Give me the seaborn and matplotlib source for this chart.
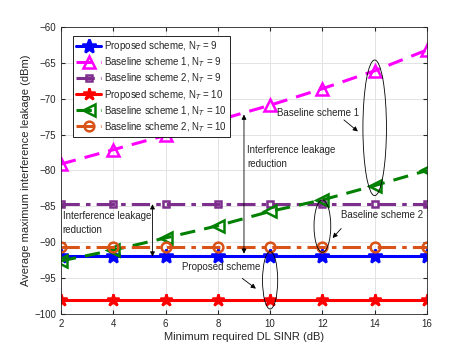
import numpy as np
import pandas as pd
import matplotlib.pyplot as plt
import seaborn as sns
from matplotlib.patches import Ellipse

# data
sinr = [2, 4, 6, 8, 10, 12, 14, 16]
prop_9 = [-91.9] * 8
base1_9 = [-79.1, -77.1, -75.1, -73.0, -70.9, -68.6, -66.1, -63.2]
base2_9 = [-84.7] * 8
prop_10 = [-98.0] * 8
base1_10 = [-92.6, -91.1, -89.4, -87.7, -85.7, -84.1, -82.1, -80.0]
base2_10 = [-90.7] * 8

labels = ['Proposed scheme, N$_T$ = 9', 'Baseline scheme 1, N$_T$ = 9',
          'Baseline scheme 2, N$_T$ = 9', 'Proposed scheme, N$_T$ = 10',
          'Baseline scheme 1, N$_T$ = 10', 'Baseline scheme 2, N$_T$ = 10']
series = [prop_9, base1_9, base2_9, prop_10, base1_10, base2_10]

colors = ['#0000ff', '#ff00ff', '#7e2f8e', '#ff0000', '#008000', '#d95319']
markers = ['*', '^', 's', '*', '<', 'o']
styles = ['-', (0, (5, 3)), (0, (6, 2, 1.5, 2)), '-', (0, (5, 3)), (0, (6, 2, 1.5, 2))]
msizes = [10, 8, 5, 9, 8, 7]

df = pd.DataFrame({'x': sinr * 6,
                   'y': sum(series, []),
                   'scheme': np.repeat(labels, len(sinr))})

sns.set_style('ticks')
plt.rcParams['font.family'] = ['Liberation Sans', 'DejaVu Sans']

fig = plt.figure(figsize=(4.71, 3.53), dpi=100)
ax = fig.add_axes([0.1295, 0.1105, 0.777, 0.813])

for i, lab in enumerate(labels):
    sub = df[df['scheme'] == lab]
    m = markers[i]
    fc = 'none' if m in ('^', '<', 'o', 's') else colors[i]
    sns.lineplot(data=sub, x='x', y='y', ax=ax, color=colors[i], label=lab,
                 marker=m, markersize=msizes[i], markerfacecolor=fc,
                 markeredgecolor=colors[i], markeredgewidth=1.8,
                 linewidth=2.2, linestyle=styles[i])

ax.set_xlim(2, 16)
ax.set_ylim(-100, -60)
ax.set_xticks(range(2, 17, 2))
ax.set_yticks(range(-100, -59, 5))
ax.grid(True, color='#e3e3e3', linewidth=0.7)
ax.tick_params(direction='in', labelsize=7, length=3, top=True, right=True)
for s in ax.spines.values():
    s.set_linewidth(0.6)
ax.set_xlabel('Minimum required DL SINR (dB)', fontsize=8, labelpad=2)
ax.set_ylabel('Average maximum interference leakage (dBm)', fontsize=8, labelpad=2)

leg = ax.legend(loc='upper left', fontsize=7, frameon=True, fancybox=False,
                edgecolor='black', framealpha=1, borderpad=0.3, labelspacing=0.25,
                handlelength=2.6, handletextpad=0.3, bbox_to_anchor=(0.02, 0.985))
leg.get_frame().set_linewidth(0.6)

# ellipses
for cx, cy, w, h in [(14, -74.05, 0.9, 18.9), (12, -87.75, 0.64, 7.3), (10, -95.3, 0.58, 8.0)]:
    ax.add_patch(Ellipse((cx, cy), w, h, fill=False, edgecolor='black', linewidth=0.6, zorder=5))

arr = dict(arrowstyle='-|>', color='black', lw=0.6, mutation_scale=7)
ax.annotate('', xy=(13.44, -74.8), xytext=(12.74, -72.7), arrowprops=arr)
ax.annotate('', xy=(12.32, -89.7), xytext=(12.79, -87.8), arrowprops=arr)
ax.annotate('', xy=(9.54, -96.7), xytext=(8.85, -94.8), arrowprops=arr)
ax.text(10.27, -72.0, 'Baseline scheme 1', fontsize=7, va='center')
ax.text(12.71, -86.2, 'Baseline scheme 2', fontsize=7, va='center')
ax.text(6.63, -93.4, 'Proposed scheme', fontsize=7, va='center')

darr = dict(arrowstyle='<|-|>', color='black', lw=0.6, mutation_scale=7,
            shrinkA=0, shrinkB=0)
ax.annotate('', xy=(9.0, -72.2), xytext=(9.0, -91.6), arrowprops=darr)
ax.annotate('', xy=(5.5, -84.7), xytext=(5.5, -92.0), arrowprops=darr)
ax.text(9.12, -78.1, 'Interference leakage\nreduction', fontsize=7, va='center',
        linespacing=1.5)
ax.text(2.06, -87.3, 'Interference leakage\nreduction', fontsize=7, va='center',
        linespacing=1.5)

fig.savefig('out.png', dpi=100)
